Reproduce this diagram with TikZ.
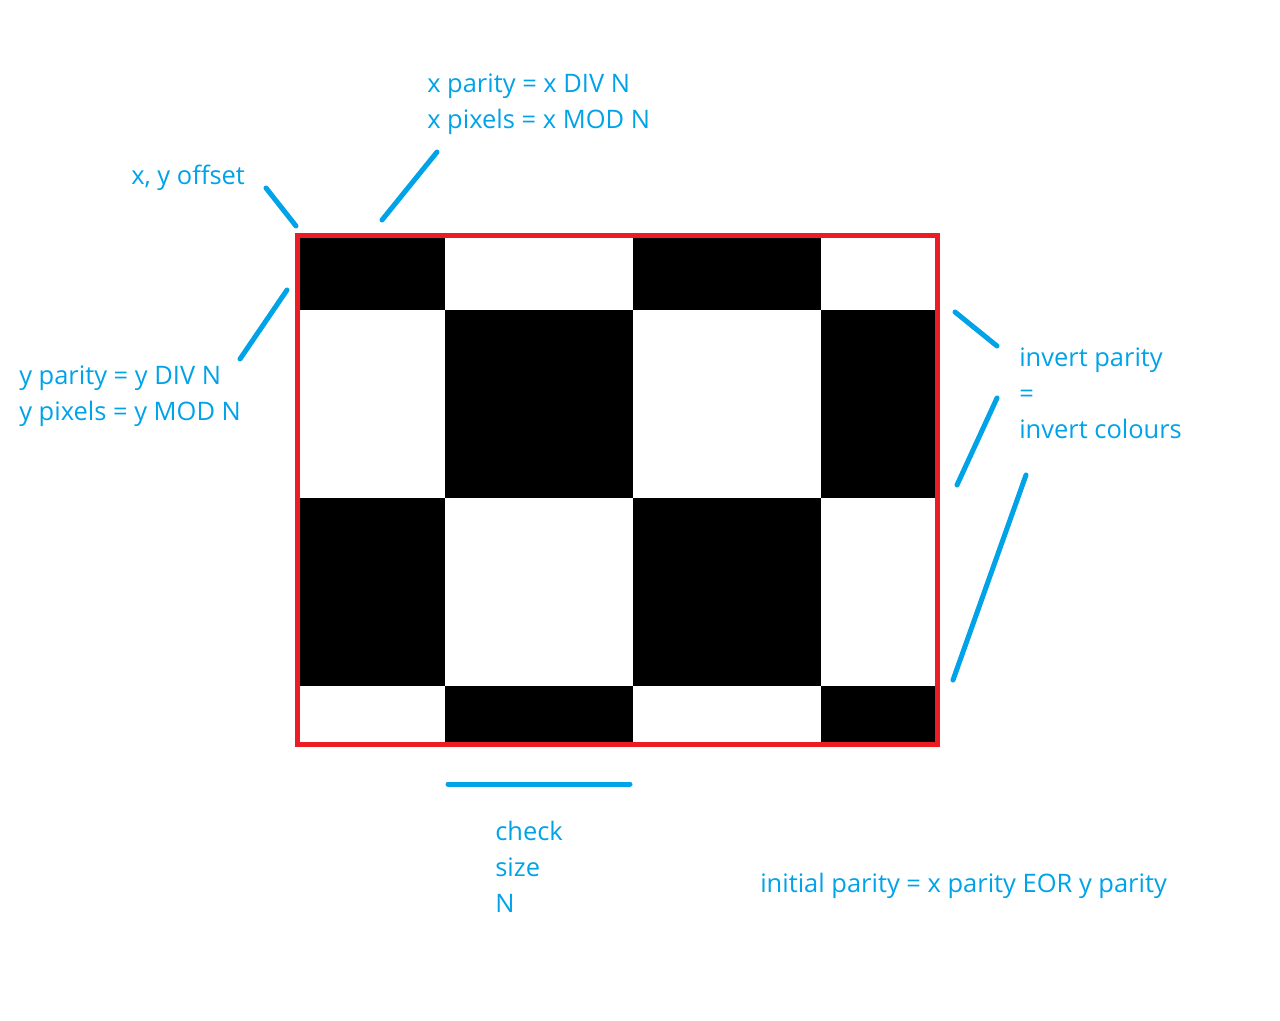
\documentclass[tikz,border=0pt]{standalone}
\usepackage{fontspec}
\setmainfont{Open Sans}
\usetikzlibrary{positioning}
\definecolor{pblue}{HTML}{00A2E8}
\definecolor{pred}{HTML}{ED1C24}

\begin{document}
\begin{tikzpicture}[x=0.75pt,y=-0.75pt,
   lbl/.style={font=\fontsize{19.1}{27}\selectfont,color=pblue,inner sep=0pt,
               anchor=base west,align=left},
   ptr/.style={pblue,line width=3.75pt,line cap=round},
   frame/.style={draw=pred,line width=3.75pt,inner sep=0pt,
                 minimum width=480pt,minimum height=381.75pt}]
  \useasboundingbox (0,0) rectangle (1280,1020);
  % checks of size N, shifted by the offset
  \begin{scope}
    \clip (297.5,235.5) rectangle (937.5,744.5);
    \foreach \i in {0,...,3}
      \foreach \j in {0,...,3}{
        \pgfmathtruncatemacro{\odd}{mod(\i+\j,2)}
        \ifnum\odd=0
          \fill (257+188*\i,122+188*\j) rectangle ++(188,188);
        \fi}
  \end{scope}
  \node[frame] (board) at (617.5,490) {};
  % base = baseline of the last line
  \node[lbl] (XP) at (427,128) {x parity = x DIV N\\x pixels = x MOD N};
  \node[lbl] (OFF) at (131,185) {x, y offset};
  \node[lbl] (YP) at (19,420) {y parity = y DIV N\\y pixels = y MOD N};
  \node[lbl] (INV) at (1019,438) {invert parity\\=\\invert colours};
  \node[lbl] (CS) at (495,912) {check\\size\\N};
  \node[lbl] (INIT) at (760,892) {initial parity = x parity EOR y parity};
  \coordinate (o1) at (266,188); \coordinate (o2) at (296,226);
  \coordinate (x1) at (437,152); \coordinate (x2) at (382,220);
  \coordinate (y1) at (287,290); \coordinate (y2) at (240,359);
  \coordinate (i1) at (955,312); \coordinate (i2) at (997,346);
  \coordinate (i3) at (997,398); \coordinate (i4) at (957,485);
  \coordinate (i5) at (1026,475); \coordinate (i6) at (953,680);
  \coordinate (n1) at (448,784); \coordinate (n2) at (630,784);
  \draw[ptr] (o1)--(o2); \draw[ptr] (x1)--(x2); \draw[ptr] (y1)--(y2);
  \draw[ptr] (i1)--(i2); \draw[ptr] (i3)--(i4); \draw[ptr] (i5)--(i6);
  \draw[ptr] (n1)--(n2);
\end{tikzpicture}
\end{document}
